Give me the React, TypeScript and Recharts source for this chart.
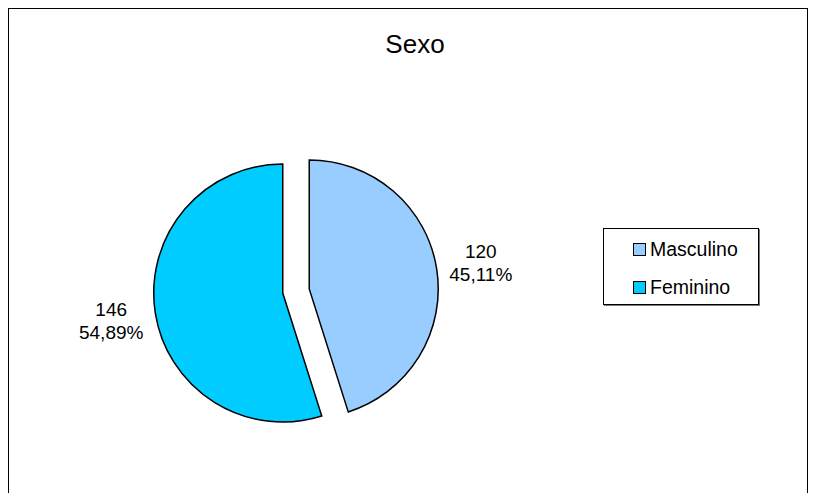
import { Cell, Legend, Pie, PieChart, Sector } from "recharts";

const categories = ["Masculino", "Feminino"];
const counts = [120, 146];
const colors = ["#99CCFF", "#00CCFF"];

const data = categories.map((name, i) => ({ name, value: counts[i], fill: colors[i] }));
const total = counts.reduce((a, b) => a + b, 0);

const FONT = "'Liberation Sans', Arial, sans-serif";
const RAD = Math.PI / 180;
const EXPLODE = 13.4;

// pull each slice out along its bisector
function ExplodedSlice(props: any) {
  const dx = EXPLODE * Math.cos(-props.midAngle * RAD);
  const dy = EXPLODE * Math.sin(-props.midAngle * RAD);
  return (
    <Sector
      cx={props.cx + dx}
      cy={props.cy + dy}
      innerRadius={props.innerRadius}
      outerRadius={props.outerRadius}
      startAngle={props.startAngle}
      endAngle={props.endAngle}
      fill={props.fill}
      stroke="#000"
      strokeWidth={1.5}
    />
  );
}

function renderLabel(props: any) {
  const r = 187;
  const x = props.cx + r * Math.cos(-props.midAngle * RAD);
  const y = props.cy + r * Math.sin(-props.midAngle * RAD);
  const pct = ((props.value / total) * 100).toFixed(2).replace(".", ",");
  return (
    <text x={x} y={y} textAnchor="middle" fontFamily={FONT} fontSize={19} fill="#000">
      <tspan x={x} dy={-4}>{props.value}</tspan>
      <tspan x={x} dy={23}>{pct}%</tspan>
    </text>
  );
}

function LegendBox() {
  return (
    <div
      style={{
        width: 154,
        height: 75,
        border: "1px solid #000",
        boxShadow: "1px 1px 0 #777",
        background: "#fff",
        fontFamily: FONT,
        fontSize: 19.5,
        boxSizing: "content-box",
      }}
    >
      {categories.map((c, i) => (
        <div
          key={c}
          style={{
            display: "flex",
            alignItems: "center",
            height: 19,
            marginTop: i === 0 ? 11 : 19,
            marginLeft: 29,
          }}
        >
          <span
            style={{
              display: "inline-block",
              width: 11,
              height: 11,
              background: colors[i],
              border: "1px solid #000",
              marginRight: 4,
            }}
          />
          <span>{c}</span>
        </div>
      ))}
    </div>
  );
}

export default function App() {
  return (
    <div
      style={{
        position: "relative",
        width: 798,
        height: 492,
        border: "1px solid #000",
        background: "#fff",
      }}
    >
      <div
        style={{
          position: "absolute",
          left: 0,
          width: 798,
          top: 20,
          textAlign: "center",
          fontFamily: FONT,
          fontSize: 26,
          paddingLeft: 14,
          boxSizing: "border-box",
        }}
      >
        Sexo
      </div>
      <PieChart width={798} height={490} margin={{ top: 0, right: 0, bottom: 0, left: 0 }}>
        <Pie
          data={data}
          dataKey="value"
          nameKey="name"
          cx={287}
          cy={282}
          outerRadius={129}
          startAngle={90}
          endAngle={-270}
          stroke="#000"
          strokeWidth={1.5}
          label={renderLabel}
          labelLine={false}
          shape={ExplodedSlice}
          activeShape={ExplodedSlice}
          inactiveShape={ExplodedSlice}
          isAnimationActive={false}
        >
          {data.map((d) => (
            <Cell key={d.name} fill={d.fill} />
          ))}
        </Pie>
        <Legend
          layout="vertical"
          align="right"
          verticalAlign="top"
          content={() => <LegendBox />}
          wrapperStyle={{ position: "absolute", left: 594, top: 219, width: 160 }}
        />
      </PieChart>
    </div>
  );
}
